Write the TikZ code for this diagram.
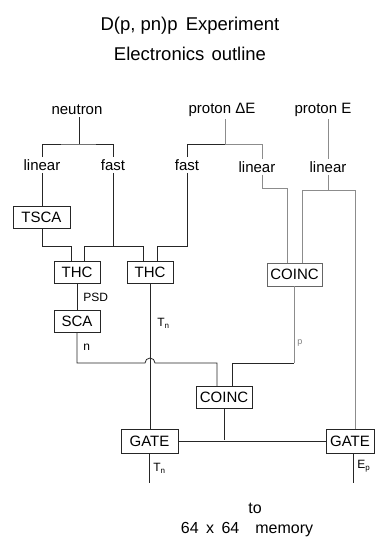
\documentclass[tikz,border=0pt]{standalone}
\usepackage{fontspec}
\setmainfont{Liberation Sans}
\begin{document}
\begin{tikzpicture}[x=1pt,y=-1pt,line width=0.8pt,
  lab/.style={font=\fontsize{15}{18}\selectfont,inner sep=2pt},
  ttl/.style={font=\fontsize{18.5}{22}\selectfont,inner sep=2pt},
  small/.style={font=\fontsize{12}{14}\selectfont,inner sep=0pt,anchor=west},
  box/.style={draw=black!85,font=\fontsize{15}{18}\selectfont,minimum height=22pt,inner sep=2pt},
  wire/.style={draw=black!85},
  faint/.style={draw=black!45}]
\useasboundingbox (0,0) rectangle (375,538);
% titles
\node[ttl] (t1) at (190,26) {D(p, pn)p\hspace{3pt} Experiment};
\node[ttl] (t2) at (190,54) {Electronics\hspace{2pt} outline};
% labels
\node[lab] (neutron) at (77,110) {neutron};
\node[lab] (pdE) at (222,110) {proton ΔE};
\node[lab] (pE) at (323,110) {proton E};
\node[lab] (lin1) at (42,165) {linear};
\node[lab] (fast1) at (113,165) {fast};
\node[lab] (fast2) at (187,165) {fast};
\node[lab] (lin2) at (257,167) {linear};
\node[lab] (lin3) at (328,167) {linear};
% boxes
\node[box,minimum width=57pt] (tsca) at (41.5,217) {TSCA};
\node[box,minimum width=46pt] (thc1) at (77,272) {THC};
\node[box,minimum width=46pt] (thc2) at (150,272) {THC};
\node[box,minimum width=55pt,minimum height=23pt,draw=black!60] (coinc1) at (294.5,274.5) {COINC};
\node[box,minimum width=46pt] (sca) at (77,321) {SCA};
\node[box,minimum width=56pt] (coinc2) at (224,397.5) {COINC};
\node[box,minimum width=57pt,minimum height=24pt] (gate1) at (149.5,441) {GATE};
\node[box,minimum width=48pt,minimum height=24pt] (gate2) at (350,441) {GATE};
% small labels
\node[small] (psd) at (83,297) {PSD};
\node[small] (tn1) at (157,323) {T\textsubscript{n}};
\node[small] (nlab) at (83,347) {n};
\node[small,text=black!50,font=\fontsize{9}{10}\selectfont] (plab) at (297,343) {p};
\node[small] (tn2) at (153,468) {T\textsubscript{n}};
\node[small] (ep) at (357,466) {E\textsubscript{p}};
\node[lab,font=\fontsize{16}{19}\selectfont] (to) at (255,508) {to};
\node[lab,font=\fontsize{16}{19}\selectfont] (mem) at (247,530) {64\hspace{3pt} x\hspace{3pt} 64\hspace{16pt}memory};
% junction coordinates
\coordinate (nb) at (79,144);
\coordinate (a1) at (71,246);
\coordinate (f1L) at (84,246);
\coordinate (f1R) at (143,246);
\coordinate (f2) at (157,246);
\coordinate (pb) at (225,144);
\coordinate (l2) at (262,188);
\coordinate (c1a) at (287,188);
\coordinate (eb) at (328,190);
\coordinate (eL) at (302,190);
\coordinate (eR) at (355,190);
\coordinate (h1) at (77,363);
\coordinate (hop) at (145,363);
\coordinate (c2a) at (217,363);
\coordinate (c2b) at (232,363);
\coordinate (c1b) at (294,363);
\coordinate (g) at (224,440);
\coordinate (o1) at (149,483);
\coordinate (o2) at (353,483);
% neutron side
\draw[wire] (neutron.south -| nb) -- (nb);
\draw[wire] (lin1.north) |- (nb) -| (fast1.north);
\draw[wire] (lin1.south) -- (lin1.south |- tsca.north);
\draw[wire] (tsca.south -| lin1) |- (a1) -- (a1 |- thc1.north);
\draw[wire] (fast1.south) -- (fast1.south |- f1L);
\draw[wire] (f1L |- thc1.north) -- (f1L) -- (f1R) -- (f1R |- thc2.north);
% proton dE
\draw[faint] (pdE.south -| pb) -- (pb);
\draw[wire] (fast2.north) |- (pb);
\draw[faint] (pb) -| (l2 |- lin2.north);
\draw[wire] (fast2.south) |- (f2) -- (f2 |- thc2.north);
\draw[faint] (l2 |- lin2.south) -- (l2) -- (c1a) -- (c1a |- coinc1.north);
% proton E
\draw[faint] (pE.south -| eb) -- (eb |- lin3.north);
\draw[faint] (eb |- lin3.south) -- (eb);
\draw[faint] (eL |- coinc1.north) -- (eL) -- (eR) -- (eR |- gate2.north);
% middle
\draw[wire] (thc1) -- (sca);
\draw[wire] (thc2.south) -- (thc2.south |- gate1.north);
\draw[wire] (sca.south) -- (h1) -- (hop) arc[start angle=180,end angle=360,radius=5] -- (c2a) -- (c2a |- coinc2.north);
\draw[faint] (coinc1.south -| c1b) -- (c1b);
\draw[wire] (c1b) -- (c2b) -- (c2b |- coinc2.north);
\draw[wire] (coinc2.south) -- (g);
\draw[wire] (gate1.east) -- (gate2.west);
\draw[wire] (gate1.south -| o1) -- (o1);
\draw[wire] (o2 |- gate2.south) -- (o2);
\end{tikzpicture}
\end{document}
